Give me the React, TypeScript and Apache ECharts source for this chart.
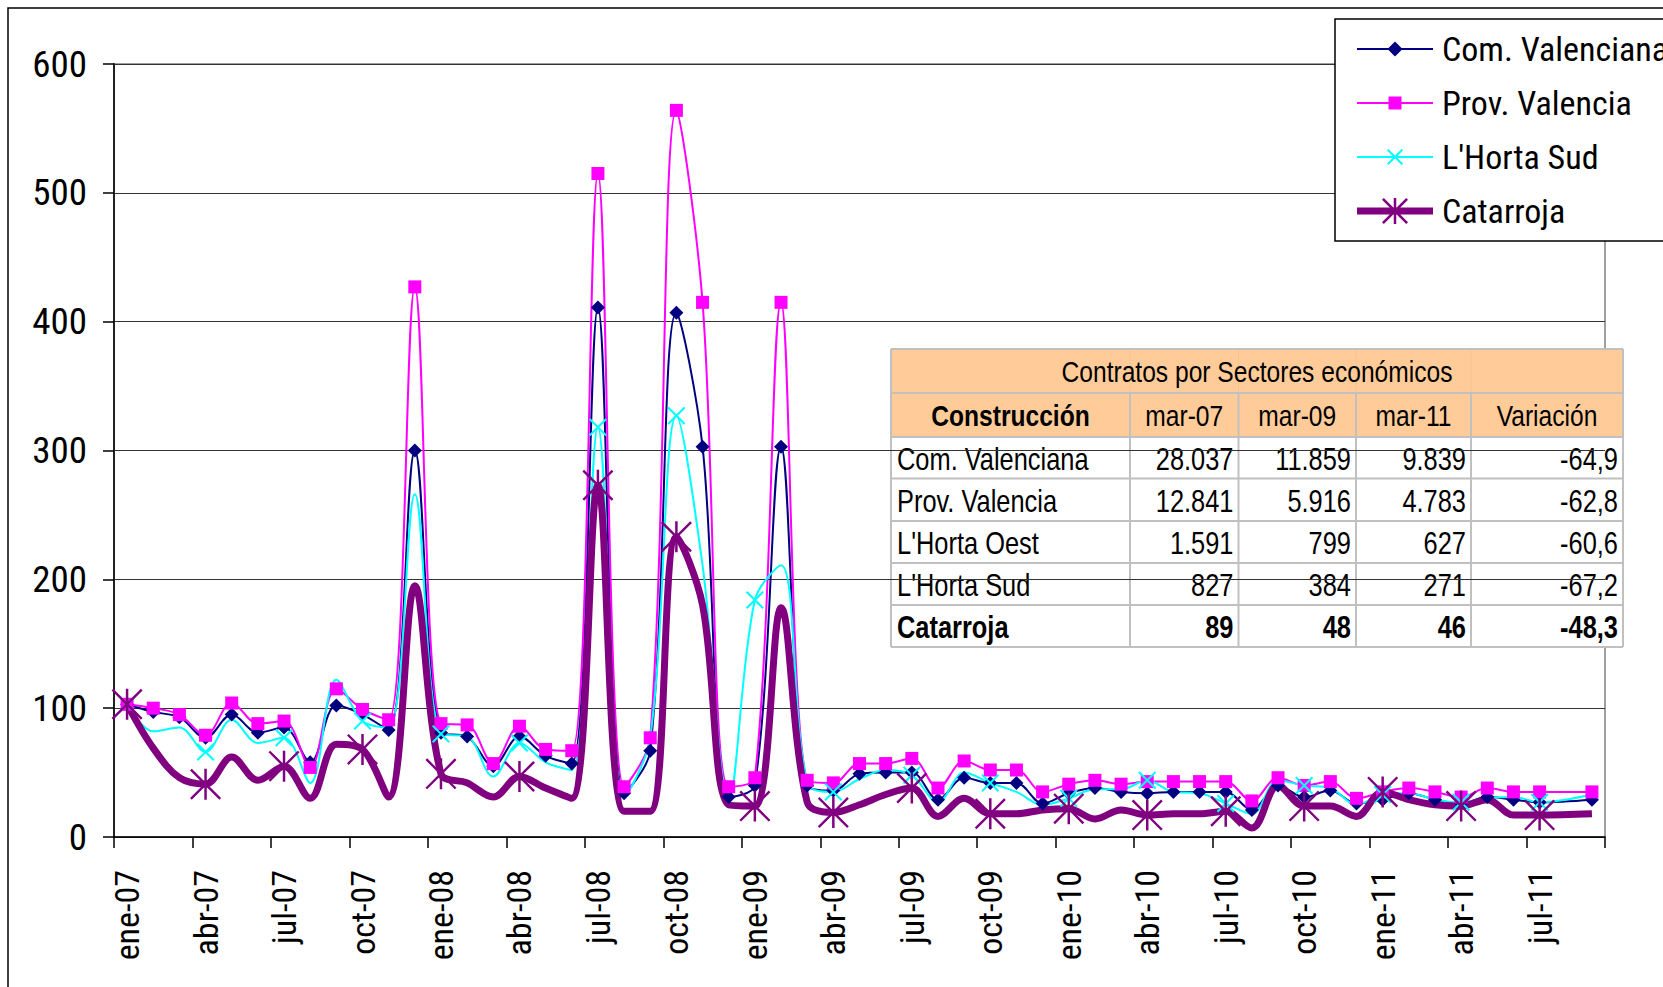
import React, { useEffect, useRef } from 'react';
import * as echarts from 'echarts';

const categories = [
  'ene-07','feb-07','mar-07','abr-07','may-07','jun-07','jul-07','ago-07','sep-07','oct-07','nov-07','dic-07',
  'ene-08','feb-08','mar-08','abr-08','may-08','jun-08','jul-08','ago-08','sep-08','oct-08','nov-08','dic-08',
  'ene-09','feb-09','mar-09','abr-09','may-09','jun-09','jul-09','ago-09','sep-09','oct-09','nov-09','dic-09',
  'ene-10','feb-10','mar-10','abr-10','may-10','jun-10','jul-10','ago-10','sep-10','oct-10','nov-10','dic-10',
  'ene-11','feb-11','mar-11','abr-11','may-11','jun-11','jul-11','ago-11','sep-11',
];

const comValenciana = [
  103, 97, 93, 77, 95, 81, 85, 58, 102, 95, 83, 300,
  81, 78, 55, 78, 63, 57, 411, 34, 67, 407, 303, 31,
  40, 303, 40, 36, 49, 50, 50, 29, 46, 42, 42, 26,
  34, 38, 35, 34, 35, 35, 35, 21, 40, 31, 36, 26,
  29, 34, 29, 26, 31, 29, 27, null, 29,
];
const provValencia = [
  103, 100, 95, 79, 104, 88, 90, 54, 115, 99, 91, 427,
  88, 87, 57, 86, 68, 67, 515, 39, 77, 564, 415, 39,
  46, 415, 44, 42, 57, 57, 61, 38, 59, 52, 52, 35,
  41, 44, 41, 43, 43, 43, 43, 28, 46, 40, 43, 30,
  35, 38, 35, 31, 38, 35, 35, null, 35,
];
const hortaSud = [
  103, 82, 85, 66, 91, 73, 77, 42, 122, 90, 85, 266,
  80, 78, 47, 73, 58, 52, 318, 31, 77, 327, 211, 29,
  184, 211, 42, 35, 45, 52, 48, 27, 50, 42, 35, 25,
  30, 37, 37, 44, 35, 34, 26, 18, 44, 40, 38, 25,
  33, 34, 29, 27, 30, 31, 27, null, 33,
];
const catarroja = [
  103, 69, 46, 41, 62, 44, 55, 30, 72, 68, 31, 195,
  49, 42, 31, 47, 38, 30, 273, 20, 20, 233, 180, 25,
  24, 178, 27, 19, 25, 33, 38, 16, 30, 18, 18, 21,
  22, 14, 21, 17, 18, 18, 20, 7, 40, 24, 24, 16,
  35, 29, 25, 24, 29, 17, 17, null, 18,
];

const seriesNames = ['Com. Valenciana', 'Prov. Valencia', "L'Horta Sud", 'Catarroja'];

const tableTitle = 'Contratos por Sectores económicos';
const tableHeader = ['Construcción', 'mar-07', 'mar-09', 'mar-11', 'Variación'];
const tableRowNames = ['Com. Valenciana', 'Prov. Valencia', "L'Horta Oest", "L'Horta Sud", 'Catarroja'];
const tableMar07 = ['28.037', '12.841', '1.591', '827', '89'];
const tableMar09 = ['11.859', '5.916', '799', '384', '48'];
const tableMar11 = ['9.839', '4.783', '627', '271', '46'];
const tableVariacion = ['-64,9', '-62,8', '-60,6', '-67,2', '-48,3'];

const SANS = "'Liberation Sans', Arial, sans-serif";
// condensed face for the axis and legend texts (Arial Narrow look-alike)
const NARROW = "'Roboto Condensed', 'Roboto', sans-serif;font-stretch:condensed";

const X_PATH = 'path://M0,8L8,0L100,92L92,100Z M92,0L100,8L8,100L0,92Z';
const STAR_PATH = 'path://M0,5.5L5.5,0L100,94.5L94.5,100Z M94.5,0L100,5.5L5.5,100L0,94.5Z M46,0L54,0L54,100L46,100Z';

const LEG_COM = 'path://M0,13L76,13L76,15L0,15Z M38,6.5L45.5,14L38,21.5L30.5,14Z';
const LEG_PROV = 'path://M0,13L76,13L76,15L0,15Z M31.5,7.5L44.5,7.5L44.5,20.5L31.5,20.5Z';
const LEG_HORTA = 'path://M0,13L76,13L76,15L0,15Z M30,7.4L31.4,6L46,20.6L44.6,22Z M44.6,6L46,7.4L31.4,22L30,20.6Z';
const LEG_CAT = 'path://M0,10.5L76,10.5L76,17.5L0,17.5Z M25,2.8L26.8,1L51,25.2L49.2,27Z M49.2,1L51,2.8L26.8,27L25,25.2Z M36.75,1L39.25,1L39.25,27L36.75,27Z';

function buildTable(): any[] {
  const colX = [891, 1130, 1238.5, 1356, 1471, 1623];
  const rowY = [349, 393, 437, 478.5, 521, 563, 605, 647];
  const left = colX[0];
  const right = colX[colX.length - 1];
  const els: any[] = [];
  const line = '#C0C0C0';
  els.push({ type: 'rect', shape: { x: left, y: rowY[0], width: right - left, height: rowY[2] - rowY[0] }, style: { fill: '#FFCC99' } });
  els.push({ type: 'rect', shape: { x: left, y: rowY[2], width: right - left, height: rowY[7] - rowY[2] }, style: { fill: '#FFFFFF' } });
  for (let k = 1; k < colX.length - 1; k++) {
    els.push({ type: 'line', shape: { x1: colX[k], y1: rowY[0], x2: colX[k], y2: rowY[1] }, style: { stroke: '#F3C48F', lineWidth: 1 } });
  }
  rowY.forEach((y) => {
    els.push({ type: 'line', shape: { x1: left, y1: y, x2: right, y2: y }, style: { stroke: line, lineWidth: 2 } });
  });
  colX.forEach((x, k) => {
    const y1 = k === 0 || k === colX.length - 1 ? rowY[0] : rowY[1];
    els.push({ type: 'line', shape: { x1: x, y1, x2: x, y2: rowY[7] }, style: { stroke: line, lineWidth: 2 } });
  });
  const txt = (text: string, x: number, y: number, align: string, size: number, bold = false) => ({
    type: 'text',
    x,
    y,
    scaleX: 0.82,
    style: { text, fill: '#000', fontSize: size, fontFamily: SANS, fontWeight: bold ? 'bold' : 'normal', align, verticalAlign: 'middle' },
  });
  els.push(txt(tableTitle, (left + right) / 2, (rowY[0] + rowY[1]) / 2 + 1, 'center', 30));
  tableHeader.forEach((h, k) => {
    els.push(txt(h, (colX[k] + colX[k + 1]) / 2, (rowY[1] + rowY[2]) / 2 + 1, 'center', 30, k === 0));
  });
  const cols = [tableMar07, tableMar09, tableMar11, tableVariacion];
  tableRowNames.forEach((name, r) => {
    const cy = (rowY[r + 2] + rowY[r + 3]) / 2 + 1;
    const bold = r === tableRowNames.length - 1;
    els.push(txt(name, left + 6, cy, 'left', 31, bold));
    cols.forEach((col, c) => {
      els.push(txt(col[r], colX[c + 2] - 5, cy, 'right', 31, bold));
    });
  });
  return els;
}

export default function App() {
  const ref = useRef<HTMLDivElement>(null);
  useEffect(() => {
    const chart = echarts.init(ref.current!, null, { renderer: 'svg' });
    const lineBase = { type: 'line', smooth: 0.35, connectNulls: true, z: 2 };
    chart.setOption({
      animation: false,
      backgroundColor: '#fff',
      grid: { left: 114, top: 64, width: 1491, height: 773, show: true, borderColor: '#808080', borderWidth: 1.5, backgroundColor: 'transparent' },
      legend: {
        orient: 'vertical',
        left: 1335,
        top: 19,
        padding: [10, 24, 10, 22],
        itemGap: 14,
        itemWidth: 76,
        itemHeight: 28,
        backgroundColor: '#fff',
        borderColor: '#000',
        borderWidth: 1.5,
        borderRadius: 0,
        z: 20,
        data: [
          { name: seriesNames[0], icon: LEG_COM },
          { name: seriesNames[1], icon: LEG_PROV },
          { name: seriesNames[2], icon: LEG_HORTA },
          { name: seriesNames[3], icon: LEG_CAT },
        ],
        textStyle: { fontSize: 34, lineHeight: 40, width: 320, fontFamily: NARROW, color: '#000', padding: [0, 0, 0, 4] },
      },
      xAxis: {
        type: 'category',
        data: categories,
        boundaryGap: true,
        axisLine: { lineStyle: { color: '#000', width: 1.5 } },
        axisTick: { show: true, interval: 2, length: 11, lineStyle: { color: '#000', width: 1.5 } },
        axisLabel: { interval: 2, rotate: 90, margin: 33, fontSize: 34, fontFamily: NARROW, color: '#000' },
        splitLine: { show: false },
      },
      yAxis: {
        type: 'value',
        min: 0,
        max: 600,
        interval: 100,
        axisLine: { show: true, lineStyle: { color: '#222', width: 2 } },
        axisTick: { show: true, length: 11, lineStyle: { color: '#000', width: 1.5 } },
        axisLabel: { margin: 27, fontSize: 37, fontFamily: NARROW, color: '#000' },
        splitLine: { show: true, lineStyle: { color: '#333', width: 1 } },
      },
      series: [
        { ...lineBase, name: seriesNames[0], data: comValenciana, symbol: 'diamond', symbolSize: 14, lineStyle: { color: '#000080', width: 2 }, itemStyle: { color: '#000080', borderWidth: 0 } },
        { ...lineBase, name: seriesNames[1], data: provValencia, symbol: 'rect', symbolSize: 13, lineStyle: { color: '#FF00FF', width: 2 }, itemStyle: { color: '#FF00FF', borderWidth: 0 } },
        { ...lineBase, name: seriesNames[2], data: hortaSud, symbol: X_PATH, symbolSize: 18, lineStyle: { color: '#00FFFF', width: 2 }, itemStyle: { color: '#00FFFF', borderWidth: 0 } },
        { ...lineBase, name: seriesNames[3], data: catarroja, symbol: STAR_PATH, symbolSize: 31, lineStyle: { color: '#800080', width: 7 }, itemStyle: { color: '#800080', borderWidth: 0 } },
      ],
      graphic: [
        { type: 'rect', z: 0, silent: true, shape: { x: 8, y: 8, width: 2000, height: 2000 }, style: { fill: 'none', stroke: '#000', lineWidth: 1.5 } },
        { type: 'group', z: 30, children: buildTable() },
      ],
    });
    return () => chart.dispose();
  }, []);
  return <div ref={ref} style={{ position: 'fixed', left: 0, top: 0, width: 1663, height: 987, background: '#fff' }} />;
}
